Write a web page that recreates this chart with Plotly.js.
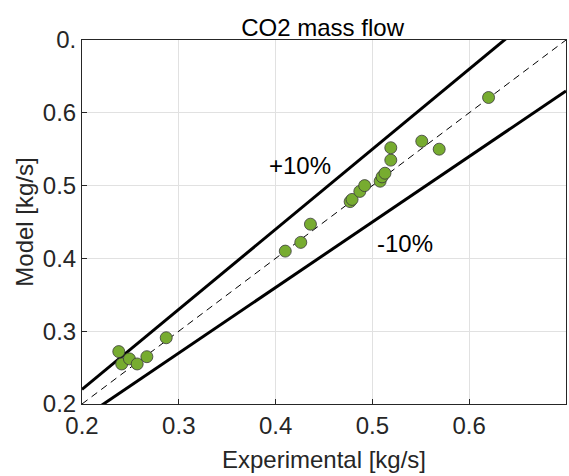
<!DOCTYPE html>
<html>
<head>
<meta charset="utf-8">
<script src="https://cdn.plot.ly/plotly-3.0.1.min.js"></script>
<style>html,body{margin:0;padding:0;background:#fff;}#chart{width:569px;height:476px;}</style>
</head>
<body>
<div id="chart"></div>
<script>
// Data
const experimental = [0.238, 0.241, 0.249, 0.257, 0.267, 0.287, 0.410, 0.426, 0.436, 0.477, 0.479, 0.487, 0.492, 0.508, 0.510, 0.513, 0.519, 0.519, 0.551, 0.569, 0.620];
const model        = [0.272, 0.255, 0.262, 0.255, 0.265, 0.291, 0.410, 0.422, 0.447, 0.478, 0.481, 0.492, 0.500, 0.506, 0.512, 0.517, 0.535, 0.552, 0.561, 0.550, 0.621];
const lineX  = [0.2, 0.7];
const equalY = [0.2, 0.7];
const plusY  = [0.22, 0.77];
const minusY = [0.18, 0.63];
const tickVals = [0.2, 0.3, 0.4, 0.5, 0.6, 0.7];
const tickText = ['0.2', '0.3', '0.4', '0.5', '0.6', '0.'];

const font = {family: 'Liberation Sans, Arial, sans-serif', color: '#262626'};
const FS = 24;

const traces = [
  {x: lineX, y: plusY, mode: 'lines', line: {color: '#000', width: 3}, hoverinfo: 'skip'},
  {x: lineX, y: minusY, mode: 'lines', line: {color: '#000', width: 3}, hoverinfo: 'skip'},
  {x: lineX, y: equalY, mode: 'lines', line: {color: '#000', width: 1, dash: '7px,5px'}, hoverinfo: 'skip'},
  {x: experimental, y: model, mode: 'markers',
   marker: {size: 12, color: '#77AC30', line: {color: '#3a3a3a', width: 0.8}}}
];

const axisCommon = {
  range: [0.2, 0.7], tickvals: tickVals, ticktext: tickText,
  showgrid: true, gridcolor: '#e1e1e1', gridwidth: 1,
  zeroline: false, showline: true, mirror: true, linecolor: '#262626', linewidth: 1,
  ticks: 'inside', ticklen: 5, tickcolor: '#262626',
  tickfont: Object.assign({size: FS}, font),
  automargin: false
};

const layout = {
  width: 569, height: 476,
  margin: {l: 82, r: 3, t: 40, b: 72},
  paper_bgcolor: '#fff', plot_bgcolor: '#fff',
  showlegend: false,
  title: {text: 'CO2 mass flow', font: Object.assign({size: FS}, font, {color: '#000'}), x: 0.567, xanchor: 'center', y: 0.943, yanchor: 'middle', automargin: false},
  xaxis: Object.assign({}, axisCommon, {title: {text: 'Experimental [kg/s]', font: Object.assign({size: FS}, font), standoff: 13}}),
  yaxis: Object.assign({}, axisCommon, {title: {text: 'Model [kg/s]', font: Object.assign({size: FS}, font), standoff: 2}}),
  annotations: [
    {x: 0.425, y: 0.528, xref: 'x', yref: 'y', text: '+10%', showarrow: false, font: Object.assign({size: FS}, font, {color: '#000'})},
    {x: 0.534, y: 0.421, xref: 'x', yref: 'y', text: '-10%', showarrow: false, font: Object.assign({size: FS}, font, {color: '#000'})}
  ]
};

Plotly.newPlot('chart', traces, layout, {displayModeBar: false, staticPlot: true});
</script>
</body>
</html>
